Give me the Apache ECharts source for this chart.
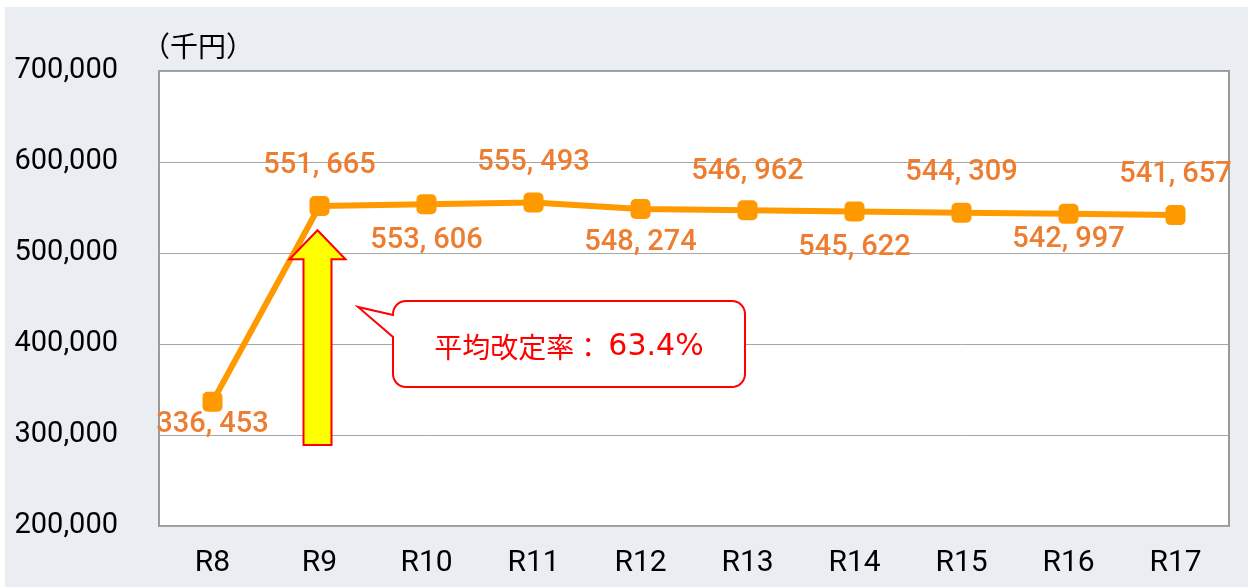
<!DOCTYPE html>
<html>
<head>
<meta charset="utf-8">
<script src="https://cdn.jsdelivr.net/npm/echarts@6/dist/echarts.min.js"></script>
<style>
  html, body { margin: 0; padding: 0; background: #ffffff; }
  #chart { width: 1248px; height: 588px; }
</style>
</head>
<body>
<div id="chart"></div>
<script>
// Fiscal years (Reiwa) along the x axis
const categories = ['R8', 'R9', 'R10', 'R11', 'R12', 'R13', 'R14', 'R15', 'R16', 'R17'];
// Amount per year, in thousand yen
const amounts = [336453, 551665, 553606, 555493, 548274, 546962, 545622, 544309, 542997, 541657];
// Value axis range and step
const yMin = 200000;
const yMax = 700000;
const yStep = 100000;
// Unit caption and callout text
const unitText = '（千円）';
const calloutLabel = '平均改定率：';
const calloutValue = '63.4%';
// Up arrow spanning these values at the R9 column
const arrowCategory = 'R9';
const arrowFrom = 289000;
const arrowTo = 525000;

// Vertical shift of each value label from its point (px)
const labelShift = [23, -40, 37, -40, 34, -39, 36, -40, 26, -40];

const fmtAxis = v => v.toLocaleString('en-US');
const fmtLabel = v => Math.floor(v / 1000) + ', ' + String(v % 1000).padStart(3, '0');

const chart = echarts.init(document.getElementById('chart'), null, { renderer: 'canvas' });

const seriesData = amounts.map((v, i) => ({
  value: v,
  label: { offset: [0, labelShift[i]] }
}));

chart.setOption({
  backgroundColor: '#eaedf2',
  animation: false,
  grid: {
    left: 159, top: 71, right: 19, bottom: 62,
    show: true,
    backgroundColor: '#ffffff',
    borderColor: '#9a9a9a',
    borderWidth: 2
  },
  xAxis: {
    type: 'category',
    data: categories,
    boundaryGap: true,
    axisLine: { show: false },
    axisTick: { show: false },
    axisLabel: {
      color: '#000',
      fontFamily: 'Roboto',
      fontSize: 30,
      margin: 22
    }
  },
  yAxis: {
    type: 'value',
    min: yMin,
    max: yMax,
    interval: yStep,
    axisLine: { show: false },
    axisTick: { show: false },
    splitLine: { lineStyle: { color: '#a6a6a6', width: 1 } },
    axisLabel: {
      color: '#000',
      fontFamily: 'Roboto',
      fontSize: 29,
      margin: 41,
      formatter: fmtAxis
    }
  },
  series: [{
    type: 'line',
    data: seriesData,
    symbol: 'roundRect',
    symbolSize: 20,
    lineStyle: { color: '#ff9900', width: 6 },
    itemStyle: { color: '#ff9900' },
    z: 3,
    label: {
      show: true,
      position: 'inside',
      color: '#ed7d31',
      fontFamily: 'Roboto',
      fontWeight: 500,
      fontSize: 29,
      formatter: p => fmtLabel(p.value)
    }
  }]
});

// Annotation layer: arrow, callout, unit caption and white page margins
function drawAnnotations() {
  const [ax, tipY] = chart.convertToPixel({ xAxisIndex: 0, yAxisIndex: 0 }, [arrowCategory, arrowTo]);
  const [, baseY] = chart.convertToPixel({ xAxisIndex: 0, yAxisIndex: 0 }, [arrowCategory, arrowFrom]);
  const headHalf = 28, shaftHalf = 14, headLen = 29;
  const cx = ax - 2;
  const arrowPts = [
    [cx, tipY],
    [cx + headHalf, tipY + headLen],
    [cx + shaftHalf, tipY + headLen],
    [cx + shaftHalf, baseY],
    [cx - shaftHalf, baseY],
    [cx - shaftHalf, tipY + headLen],
    [cx - headHalf, tipY + headLen]
  ];

  // Rounded speech bubble with a tail on its left side
  const L = 393, T = 301, R = 745, B = 387, r = 13;
  const tip = [358, 307], tailTop = 315, tailBot = 337;
  const arc = (ox, oy, a0, a1) => {
    const pts = [];
    for (let k = 0; k <= 8; k++) {
      const a = a0 + (a1 - a0) * k / 8;
      pts.push([ox + r * Math.cos(a), oy + r * Math.sin(a)]);
    }
    return pts;
  };
  const P = Math.PI;
  const bubble = [].concat(
    arc(R - r, T + r, -P / 2, 0),
    arc(R - r, B - r, 0, P / 2),
    arc(L + r, B - r, P / 2, P),
    [[L, tailBot], tip, [L, tailTop]],
    arc(L + r, T + r, P, 1.5 * P)
  );

  chart.setOption({
    graphic: [
      { type: 'rect', z: 200, shape: { x: 0, y: 0, width: 1248, height: 7 }, style: { fill: '#ffffff' } },
      { type: 'rect', z: 200, shape: { x: 0, y: 0, width: 5, height: 588 }, style: { fill: '#ffffff' } },
      { type: 'rect', z: 200, shape: { x: 0, y: 587, width: 1248, height: 1 }, style: { fill: '#ffffff' } },
      {
        type: 'text', z: 200, x: 142, y: 46,
        style: {
          text: unitText, fill: '#000',
          font: "28px 'Noto Sans CJK JP'",
          align: 'left', verticalAlign: 'middle'
        }
      },
      {
        type: 'polygon', z: 150,
        shape: { points: arrowPts },
        style: { fill: '#ffff00', stroke: '#ff0000', lineWidth: 2 }
      },
      {
        type: 'polygon', z: 150,
        shape: { points: bubble },
        style: { fill: '#ffffff', stroke: '#ff0000', lineWidth: 2 }
      },
      {
        type: 'text', z: 151, x: (L + R) / 2, y: (T + B) / 2 + 3,
        style: {
          text: '{a|' + calloutLabel + '}{b|' + calloutValue + '}',
          align: 'center', verticalAlign: 'middle',
          rich: {
            a: { fill: '#ff0000', font: "28px 'Noto Sans CJK JP'" },
            b: { fill: '#ff0000', font: "30px 'DejaVu Sans'", padding: [0, 0, 0, 6] }
          }
        }
      }
    ]
  });
}
drawAnnotations();
</script>
</body>
</html>
